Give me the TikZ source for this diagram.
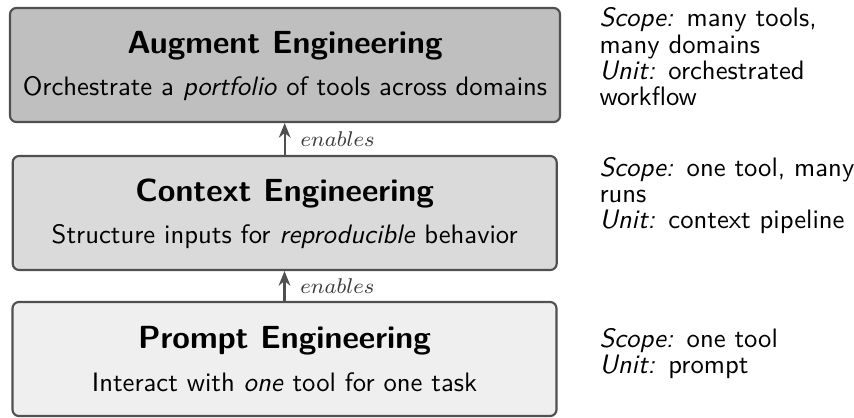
\documentclass[tikz,border=0pt]{standalone}
\usepackage{xcolor}
\usetikzlibrary{arrows.meta,calc}

\definecolor{augfill}{RGB}{191,191,191}
\definecolor{ctxfill}{RGB}{218,218,218}
\definecolor{prmfill}{RGB}{239,239,239}
\definecolor{edgegray}{RGB}{80,80,80}
\definecolor{lblgray}{RGB}{60,60,60}

\begin{document}
\begin{tikzpicture}[x=0.375pt,y=0.375pt,yscale=-1,xscale=1,
  layer/.style={draw=edgegray, line width=0.8pt, rounded corners=2.4pt, minimum height=42.75pt, minimum width=204pt, inner sep=0pt},
  ttl/.style={font=\sffamily\large\bfseries, anchor=base, inner sep=0pt},
  sub/.style={font=\sffamily\normalsize, anchor=base, inner sep=0pt},
  link/.style={draw=edgegray, line width=0.9pt, -{Stealth[length=5.5pt,width=4.4pt]}},
  lbl/.style={font=\footnotesize, text=lblgray, anchor=west, inner sep=0pt},
  note/.style={font=\sffamily\fontsize{10}{9.8}\selectfont, text width=100pt, align=left, inner sep=0pt, anchor=base west}]
\useasboundingbox (0,0) rectangle (854,417);

% layer boxes
\node [layer, fill=augfill, minimum width=206.25pt] (aug) at (285,65) {};
\node [layer, fill=ctxfill] (ctx) at (284.7,213) {};
\node [layer, fill=prmfill] (prm) at (284.5,359) {};

% titles and subtitles
\node [ttl] (augTitle) at ($(aug.north)+(0,47)$) {Augment Engineering};
\node [sub] (augSub) at ($(aug.north)+(0,89)$) {Orchestrate a \textit{portfolio} of tools across domains};
\node [ttl] (ctxTitle) at ($(ctx.north)+(0,47)$) {Context Engineering};
\node [sub] (ctxSub) at ($(ctx.north)+(0,89)$) {Structure inputs for \textit{reproducible} behavior};
\node [ttl] (prmTitle) at ($(prm.north)+(0,48)$) {Prompt Engineering};
\node [sub] (prmSub) at ($(prm.north)+(0,91)$) {Interact with \textit{one} tool for one task};

% enables arrows
\draw [link] (ctx.north) -- node [lbl, xshift=5.5pt] {$enables$} (ctx.north |- aug.south);
\draw [link] (prm.north) -- node [lbl, xshift=5.5pt] {$enables$} (prm.north |- ctx.south);

% side notes
\node [note] (augNote) at (599,27) {\textit{Scope:} many tools, many domains\\ \textit{Unit:} orchestrated workflow};
\node [note] (ctxNote) at (599,176.5) {\textit{Scope:} one tool, many runs\\ \textit{Unit:} context pipeline};
\node [note] (prmNote) at (599,347) {\textit{Scope:} one tool\\ \textit{Unit:} prompt};

\end{tikzpicture}
\end{document}
